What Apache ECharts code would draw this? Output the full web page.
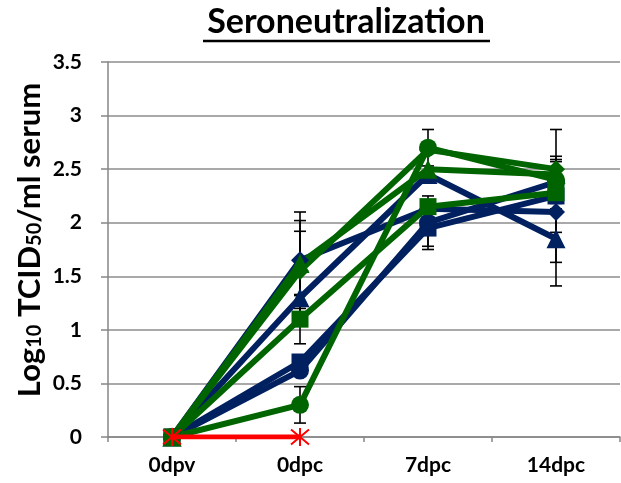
<!DOCTYPE html>
<html><head><meta charset="utf-8">
<script src="https://cdn.jsdelivr.net/npm/echarts@6/dist/echarts.min.js"></script>
<style>html,body{margin:0;padding:0;background:#fff}#c{width:621px;height:483px}</style>
</head><body><div id="c"></div>
<script>
const categories = ['0dpv', '0dpc', '7dpc', '14dpc'];
const yTickValues = [0, 0.5, 1, 1.5, 2, 2.5, 3, 3.5];

const blueDiamond = [0, 1.65, 2.13, 2.10];
const blueDiamondErr = [0, 0.45, 0, 0.47];
const blueSquare = [0, 0.70, 1.95, 2.25];
const blueSquareErr = [0, 0, 0.17, 0.34];
const blueTriangle = [0, 1.30, 2.45, 1.85];
const blueTriangleErr = [0, 0, 0, 0.44];
const blueCircle = [0, 0.62, 2.00, 2.38];
const blueCircleErr = [0, 0, 0.25, 0];
const greenDiamond = [0, 1.55, 2.68, 2.50];
const greenDiamondErr = [0, 0.47, 0, 0.37];
const greenTriangle = [0, 1.62, 2.50, 2.45];
const greenTriangleErr = [0, 0.30, 0, 0];
const greenCircle = [0, 0.30, 2.70, 2.40];
const greenCircleErr = [0, 0.17, 0.17, 0.22];
const greenSquare = [0, 1.10, 2.15, 2.28];
const greenSquareErr = [0, 0.23, 0, 0];
const control = [0, 0];

const NAVY = '#002060', GREEN = '#006400', RED = '#FF0000';
const FONT = 'Lato';

const groups = [
  { v: blueDiamond, e: blueDiamondErr, c: NAVY, s: 'diamond', size: 18 },
  { v: blueSquare, e: blueSquareErr, c: NAVY, s: 'rect', size: 17 },
  { v: blueTriangle, e: blueTriangleErr, c: NAVY, s: 'triangle', size: 19 },
  { v: blueCircle, e: blueCircleErr, c: NAVY, s: 'circle', size: 18 },
  { v: greenDiamond, e: greenDiamondErr, c: GREEN, s: 'diamond', size: 18 },
  { v: greenTriangle, e: greenTriangleErr, c: GREEN, s: 'triangle', size: 19 },
  { v: greenCircle, e: greenCircleErr, c: GREEN, s: 'circle', size: 18 },
  { v: greenSquare, e: greenSquareErr, c: GREEN, s: 'rect', size: 17 }
];

const errData = [];
groups.forEach(g => g.v.forEach((val, i) => { if (g.e[i] > 0) errData.push([i, val, g.e[i]]); }));

const series = [{
  type: 'custom', data: errData, z: 1, silent: true,
  renderItem: function (params, api) {
    const x = api.value(0), y = api.value(1), e = api.value(2);
    const t = api.coord([x, y + e]), b = api.coord([x, y - e]);
    const hw = 6, st = { stroke: '#000', lineWidth: 1.6 };
    return { type: 'group', children: [
      { type: 'line', shape: { x1: t[0], y1: t[1], x2: b[0], y2: b[1] }, style: st },
      { type: 'line', shape: { x1: t[0] - hw, y1: t[1], x2: t[0] + hw, y2: t[1] }, style: st },
      { type: 'line', shape: { x1: b[0] - hw, y1: b[1], x2: b[0] + hw, y2: b[1] }, style: st }
    ] };
  }
}];
groups.forEach(g => series.push({
  type: 'line', data: g.v, symbol: g.s, symbolSize: g.size, z: 2,
  lineStyle: { color: g.c, width: 6 }, itemStyle: { color: g.c }
}));
series.push({
  type: 'line', data: control, z: 3,
  symbol: 'path://M0,0L10,10M10,0L0,10M5,-1L5,11', symbolSize: 18,
  lineStyle: { color: RED, width: 5 },
  itemStyle: { color: RED, borderColor: RED, borderWidth: 2 }
});

const chart = echarts.init(document.getElementById('c'), null, { renderer: 'canvas' });
chart.setOption({
  animation: false,
  grid: { left: 108, right: 1, top: 62, bottom: 46, containLabel: false },
  xAxis: {
    type: 'category', data: categories, boundaryGap: true,
    axisLine: { lineStyle: { color: '#868686', width: 1.5 } },
    axisTick: { show: true, length: 5, lineStyle: { color: '#868686', width: 1.5 } },
    axisLabel: { color: '#000', fontFamily: FONT, fontWeight: 'bold', fontSize: 21, margin: 18 }
  },
  yAxis: {
    type: 'value', min: yTickValues[0], max: yTickValues[yTickValues.length - 1],
    interval: yTickValues[1] - yTickValues[0],
    axisLine: { show: true, lineStyle: { color: '#868686', width: 1.5 } },
    axisTick: { show: true, length: 7, lineStyle: { color: '#868686', width: 1.5 } },
    splitLine: { lineStyle: { color: '#8c8c8c', width: 1.5 } },
    axisLabel: { color: '#000', fontFamily: FONT, fontWeight: 'bold', fontSize: 21, margin: 26 }
  },
  graphic: [
    { type: 'text', x: 346, y: 22, style: { text: 'Seroneutralization', fill: '#000',
      font: 'bold 34px ' + FONT, align: 'center', verticalAlign: 'middle' } },
    { type: 'line', shape: { x1: 203, y1: 41, x2: 490, y2: 41 }, style: { stroke: '#000', lineWidth: 2.5 } },
    { type: 'text', x: 28, y: 240, rotation: Math.PI / 2,
      style: { text: '{b|Log}{s|10}{b| TCID}{s|50}{b|/ml serum}', align: 'center', verticalAlign: 'middle',
        rich: {
          b: { font: 'bold 31px ' + FONT, fill: '#000', verticalAlign: 'bottom', lineHeight: 34 },
          s: { font: 'bold 20px ' + FONT, fill: '#000', verticalAlign: 'bottom', lineHeight: 25 }
        } } }
  ],
  series: series
});
</script></body></html>
